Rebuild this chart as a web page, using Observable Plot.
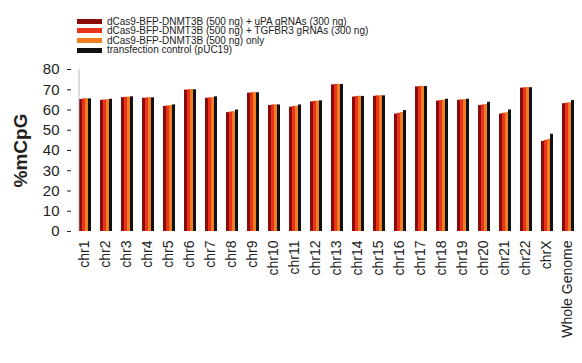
<!DOCTYPE html>
<html>
<head>
<meta charset="utf-8">
<script src="https://cdn.jsdelivr.net/npm/d3@7"></script>
<script src="https://cdn.jsdelivr.net/npm/@observablehq/plot@0.6"></script>
<style>
  html, body { margin: 0; padding: 0; background: #fff; }
  #wrap { position: relative; width: 582px; height: 363px; overflow: hidden; font-family: "Liberation Sans", Arial, sans-serif; }
  #legend { position: absolute; left: 77px; top: 16.5px; z-index: 2; }
  .row { display: flex; align-items: center; height: 9.6px; }
  .sw { width: 25px; height: 5px; margin-right: 5px; }
  .lt { font-size: 10px; font-weight: normal; color: #222; white-space: nowrap; line-height: 9.6px; }
  #chart { position: absolute; left: 0; top: 0; }
  #chart g[aria-label="y-axis label"] text { font-size: 19px; font-weight: bold; fill: #222; }
</style>
</head>
<body>
<div id="wrap">
  <div id="legend"></div>
  <div id="chart"></div>
</div>
<script>
const chroms = ["chr1","chr2","chr3","chr4","chr5","chr6","chr7","chr8","chr9","chr10","chr11","chr12","chr13","chr14","chr15","chr16","chr17","chr18","chr19","chr20","chr21","chr22","chrX","Whole Genome"];
const seriesNames = [
  "dCas9-BFP-DNMT3B (500 ng) + uPA gRNAs (300 ng)",
  "dCas9-BFP-DNMT3B (500 ng) + TGFBR3 gRNAs (300 ng)",
  "dCas9-BFP-DNMT3B (500 ng) only",
  "transfection control (pUC19)"
];
const seriesColors = ["#8b0a0a", "#e8341c", "#f07d1e", "#111111"];
const uPA    = [65.2, 64.8, 66.1, 65.8, 61.8, 69.8, 65.8, 58.7, 68.3, 62.2, 61.4, 64.0, 72.4, 66.4, 66.8, 58.0, 71.4, 64.4, 64.8, 62.2, 58.0, 70.8, 44.5, 63.1];
const TGFBR3 = [65.5, 65.0, 66.3, 66.0, 62.0, 70.0, 66.0, 59.0, 68.5, 62.5, 61.7, 64.3, 72.6, 66.7, 67.0, 58.4, 71.6, 64.7, 65.0, 62.5, 58.4, 71.0, 45.0, 63.4];
const only   = [65.6, 65.1, 66.4, 66.1, 62.2, 70.1, 66.1, 59.2, 68.6, 62.6, 61.9, 64.4, 72.7, 66.8, 67.1, 58.7, 71.7, 64.9, 65.1, 62.7, 58.7, 71.1, 45.5, 63.6];
const control= [65.5, 65.3, 66.5, 66.0, 62.5, 70.0, 66.5, 60.0, 68.5, 62.5, 62.5, 64.5, 72.6, 66.7, 67.0, 59.7, 71.6, 65.3, 65.3, 63.8, 60.0, 71.0, 48.0, 64.7];
const yTicks = [0, 10, 20, 30, 40, 50, 60, 70, 80];

const seriesValues = [uPA, TGFBR3, only, control];
const data = [];
chroms.forEach((c, i) => {
  seriesNames.forEach((s, j) => data.push({chrom: c, series: s, value: seriesValues[j][i]}));
});

// legend
const leg = document.getElementById("legend");
seriesNames.forEach((s, j) => {
  const row = document.createElement("div");
  row.className = "row";
  row.innerHTML = `<div class="sw" style="background:${seriesColors[j]}"></div><div class="lt">${s}</div>`;
  leg.appendChild(row);
});

const chart = Plot.plot({
  width: 582,
  height: 363,
  marginTop: 69,
  marginBottom: 132,
  marginLeft: 70,
  marginRight: 0,
  style: {fontFamily: "Liberation Sans, Arial, sans-serif", fontSize: "14px", color: "#222", background: "white"},
  fx: {domain: chroms, paddingInner: 0.3, paddingOuter: 0.1, label: null},
  x: {domain: seriesNames, padding: 0, axis: null},
  y: {domain: [0, 80], axis: null},
  color: {domain: seriesNames, range: seriesColors},
  marks: [
    Plot.barY(data, {fx: "chrom", x: "series", y: "value", fill: "series"}),
    Plot.axisFx({anchor: "bottom", tickRotate: -90, tickSize: 0, tickPadding: 9, fontSize: 14, label: null}),
    Plot.axisY({ticks: yTicks, tickSize: 4, tickPadding: 8, dx: -6, fontSize: 15,
      label: "%mCpG", labelAnchor: "center", labelArrow: "none", labelOffset: 64}),
    Plot.ruleX([0], {x: null, y1: 0, y2: 80, dx: -6, stroke: "#aaa", strokeWidth: 0.8, facetAnchor: "left"})
  ]
});
document.getElementById("chart").appendChild(chart);
</script>
</body>
</html>
